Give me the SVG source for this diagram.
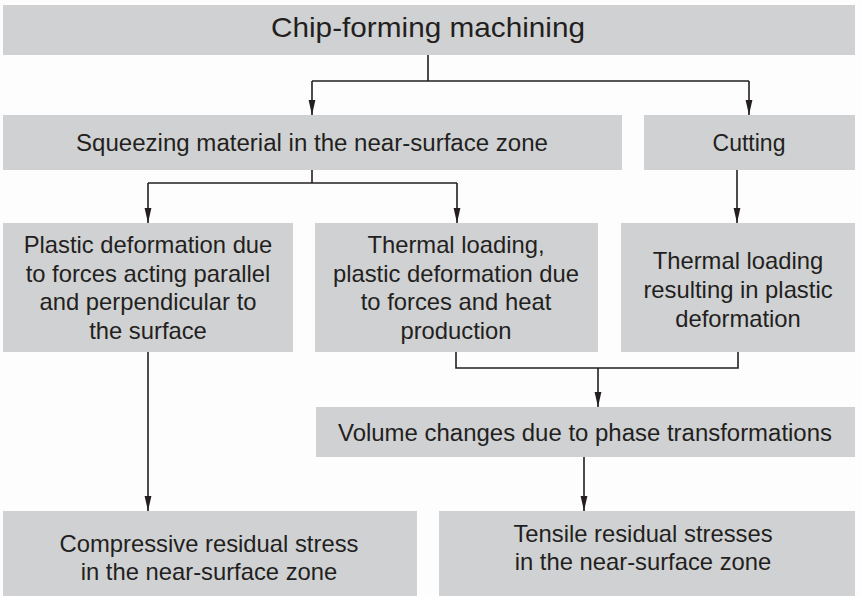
<svg xmlns="http://www.w3.org/2000/svg" width="861" height="597" viewBox="0 0 861 597">
<defs>
<marker id="ah" markerUnits="userSpaceOnUse" markerWidth="16" markerHeight="8" refX="15" refY="4" orient="auto">
<path d="M0,0.6 L15,4 L0,7.4 z" fill="#231f20"/>
</marker>
<style>
.box{fill:#d0d1d3}
.t{font-family:"Liberation Sans",Arial,sans-serif;fill:#231f20;text-anchor:middle}
.m{font-size:23.8px}
.c{fill:none;stroke:#231f20;stroke-width:1.6}
.a{fill:none;stroke:#231f20;stroke-width:1.6;marker-end:url(#ah)}
</style>
</defs>
<rect width="861" height="597" fill="#fdfdfd"/>
<g id="n-top">
<rect class="box" x="3" y="5" width="852" height="50"/>
<text class="t" x="428" y="37" font-size="28" textLength="314" lengthAdjust="spacingAndGlyphs">Chip-forming machining</text>
</g>
<g id="n-squeeze">
<rect class="box" x="3" y="115" width="619" height="55"/>
<text class="t" x="312" y="151" font-size="23" textLength="472" lengthAdjust="spacingAndGlyphs">Squeezing material in the near-surface zone</text>
</g>
<g id="n-cutting">
<rect class="box" x="644" y="115" width="211" height="55"/>
<text class="t" x="749" y="151" font-size="23">Cutting</text>
</g>
<g id="n-plastic">
<rect class="box" x="3" y="223" width="290" height="129"/>
<text class="t m"><tspan x="148" y="253">Plastic deformation due</tspan><tspan x="148" y="282">to forces acting parallel</tspan><tspan x="148" y="310">and perpendicular to</tspan><tspan x="148" y="339">the surface</tspan></text>
</g>
<g id="n-thermal1">
<rect class="box" x="315" y="223" width="283" height="129"/>
<text class="t m"><tspan x="456" y="253">Thermal loading,</tspan><tspan x="456" y="282">plastic deformation due</tspan><tspan x="456" y="310">to forces and heat</tspan><tspan x="456" y="339">production</tspan></text>
</g>
<g id="n-thermal2">
<rect class="box" x="621" y="223" width="234" height="129"/>
<text class="t m"><tspan x="738" y="269">Thermal loading</tspan><tspan x="738" y="298">resulting in plastic</tspan><tspan x="738" y="327">deformation</tspan></text>
</g>
<g id="n-volume">
<rect class="box" x="316" y="407" width="539" height="50"/>
<text class="t" x="585" y="441" font-size="23" textLength="494" lengthAdjust="spacingAndGlyphs">Volume changes due to phase transformations</text>
</g>
<g id="n-compressive">
<rect class="box" x="3" y="511" width="414" height="85"/>
<text class="t m"><tspan x="209" y="552">Compressive residual stress</tspan><tspan x="209" y="580">in the near-surface zone</tspan></text>
</g>
<g id="n-tensile">
<rect class="box" x="439" y="511" width="416" height="85"/>
<text class="t m"><tspan x="643" y="542">Tensile residual stresses</tspan><tspan x="643" y="570">in the near-surface zone</tspan></text>
</g>
<g id="connectors">
<path class="c" d="M428,55 V81 M312,81 H749"/>
<path class="a" d="M312,81 V115"/>
<path class="a" d="M749,81 V115"/>
<path class="c" d="M312,170 V183 M148,183 H457"/>
<path class="a" d="M148,183 V223"/>
<path class="a" d="M457,183 V223"/>
<path class="a" d="M737,170 V223"/>
<path class="a" d="M148,352 V511"/>
<path class="c" d="M456,352 V368 H738 V352"/>
<path class="a" d="M598,368 V407"/>
<path class="a" d="M584,457 V511"/>
</g>
</svg>
